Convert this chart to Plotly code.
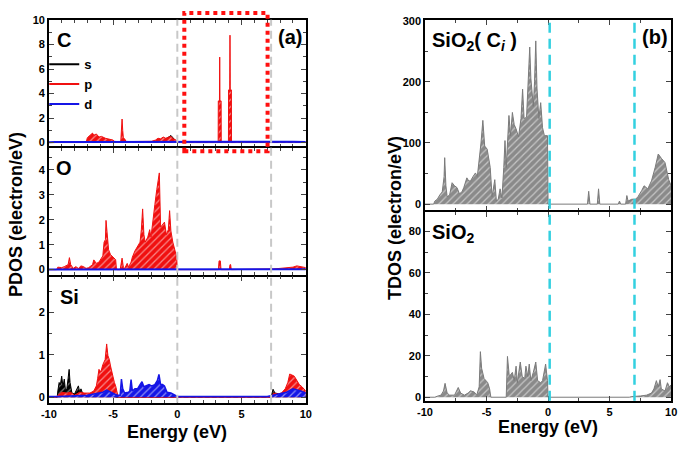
import plotly.graph_objects as go

# ---------------- data ----------------
energy_tickvals = [-10, -5, 0, 5, 10]
energy_ticktext = ["-10", "-5", "0", "5", "10"]
energy_minor_a = [-10, -9, -8, -7, -6, -5, -4, -3, -2, -1, 0, 1, 2, 3, 4, 5, 6, 7, 8, 9, 10]
energy_minor_b = [-10, -7.5, -5, -2.5, 0, 2.5, 5, 7.5, 10]

# Panel (a) C atom
c_s_E = [-10, -9.5, -7.0, -6.6, -6.0, -5.0, -4.4, -4.3, -4.2, -2.0, -1.6, -1.2, -0.9, -0.6, -0.5, -0.3, -0.1, 0.0, 10]
c_s   = [0, 0.02, 0.05, 0.2, 0.1, 0.05, 0.05, 0.3, 0.05, 0.05, 0.15, 0.25, 0.3, 0.5, 0.58, 0.35, 0.1, 0, 0]
c_p_E = [-10, -7.1, -7.0, -6.8, -6.6, -6.5, -6.3, -6.1, -5.9, -5.6, -5.3, -5.0, -4.9, -4.5, -4.4, -4.35, -4.3,
         -4.25, -4.2, -4.1, -4.0, -3.8, -3.0, -2.0, -1.7, -1.5, -1.3, -1.1, -0.9, -0.7, -0.5, -0.3, -0.1, 0.0,
         3.18, 3.19, 3.28, 3.3, 3.32, 3.41, 3.42, 3.98, 3.99, 4.08, 4.1, 4.12, 4.21, 4.22, 7.5, 8.5, 9.5, 10]
c_p   = [0, 0, 0.4, 0.6, 0.77, 0.6, 0.7, 0.45, 0.5, 0.35, 0.3, 0.2, 0.1, 0.05, 0.1, 1.0, 1.92,
         1.0, 0.4, 0.3, 0.1, 0.08, 0.1, 0.1, 0.2, 0.35, 0.3, 0.45, 0.35, 0.4, 0.5, 0.3, 0.2, 0,
         0, 3.4, 3.4, 6.98, 3.4, 3.4, 0, 0, 4.3, 4.3, 8.77, 4.3, 4.3, 0, 0.03, 0.05, 0.06, 0.04]
c_d_E = [-10, -9.5, -7.0, -4.3, -1.0, 0.0, 5.0, 8.0, 9.0, 10]
c_d   = [0.03, 0.05, 0.05, 0.06, 0.06, 0.05, 0.04, 0.05, 0.07, 0.05]

# Panel (a) O atom
o_p_E = [-10, -9.4, -9.3, -9.0, -8.8, -8.5, -8.4, -8.3, -8.1, -7.9, -7.7, -7.5, -7.3, -7.1, -6.9, -6.6, -6.5,
         -6.3, -6.1, -5.9, -5.8, -5.7, -5.6, -5.55, -5.45, -5.35, -5.2, -5.0, -4.8, -4.75, -4.7, -4.45, -4.4,
         -4.3, -4.2, -4.1, -3.9, -3.8, -3.6, -3.5, -3.3, -3.1, -2.9, -2.8, -2.7, -2.6, -2.5, -2.3, -2.15,
         -2.05, -1.9, -1.75, -1.6, -1.5, -1.4, -1.3, -1.15, -1.0, -0.85, -0.7, -0.6, -0.5, -0.35, -0.2, -0.05,
         0.0, 3.2, 3.25, 3.35, 3.4, 4.05, 4.1, 4.15, 4.2, 7.0, 7.5, 8.0, 8.5, 9.0, 9.3, 9.6, 10]
o_p   = [0, 0, 0.1, 0.08, 0.12, 0.2, 0.48, 0.2, 0.05, 0.12, 0.05, 0.15, 0.12, 0.05, 0.08, 0.2, 0.39,
         0.25, 0.3, 0.45, 0.55, 1.1, 1.2, 1.97, 1.2, 0.8, 0.6, 0.5, 0.4, 0.1, 0, 0, 0.15,
         0.46, 0.1, 0.05, 0.25, 0.1, 0.3, 0.5, 0.75, 0.92, 1.1, 1.6, 2.43, 1.4, 1.1, 1.3, 1.6,
         1.3, 1.85, 2.6, 3.2, 3.55, 3.87, 1.7, 1.8, 1.9, 1.4, 1.6, 2.36, 1.55, 1.1, 0.75, 0.5,
         0, 0, 0.35, 0.35, 0, 0, 0.2, 0.2, 0, 0, 0.03, 0.05, 0.08, 0.1, 0.15, 0.12, 0.08]
o_d_E = [-10, -4.7, 0.0, 7.0, 9.0, 10]
o_d   = [0.01, 0.01, 0.01, 0.01, 0.03, 0.02]

# Panel (a) Si atom
si_s_E = [-10, -9.35, -9.3, -9.2, -9.1, -9.0, -8.9, -8.8, -8.7, -8.6, -8.5, -8.42, -8.35, -8.2, -8.0, -7.8,
          -7.7, -7.6, -7.5, -7.4, -7.2, -6.5, -5.0, -4.7, 0.0, 7.3, 7.45, 7.6, 8.0, 9.0, 10]
si_s   = [0, 0, 0.15, 0.35, 0.3, 0.5, 0.25, 0.43, 0.15, 0.2, 0.45, 0.66, 0.35, 0.1, 0.08, 0.2,
          0.27, 0.12, 0.2, 0.12, 0.05, 0.03, 0.03, 0, 0, 0, 0.19, 0.1, 0.08, 0.1, 0.1]
si_p_E = [-10, -9.4, -9.3, -9.0, -8.6, -8.3, -8.0, -7.6, -7.2, -6.8, -6.5, -6.3, -6.2, -6.1, -5.95, -5.8,
          -5.62, -5.5, -5.4, -5.3, -5.2, -5.05, -4.9, -4.8, -4.7, -4.6, 0.0, 7.3, 7.5, 7.8, 8.1, 8.4, 8.6,
          8.75, 8.9, 9.1, 9.3, 9.5, 9.7, 10]
si_p   = [0, 0, 0.05, 0.12, 0.1, 0.12, 0.05, 0.12, 0.1, 0.1, 0.15, 0.27, 0.45, 0.66, 0.6, 0.77,
          0.89, 1.26, 0.98, 0.9, 0.74, 0.5, 0.35, 0.27, 0.1, 0, 0, 0, 0.1, 0.08, 0.1, 0.2, 0.35,
          0.55, 0.53, 0.5, 0.4, 0.3, 0.25, 0.15]
si_d_E = [-10, -9.3, -7.0, -6.3, -5.8, -5.5, -5.3, -5.0, -4.7, -4.45, -4.35, -4.25, -4.1, -3.8, -3.7, -3.6,
          -3.5, -3.3, -3.1, -2.9, -2.75, -2.6, -2.4, -2.2, -2.0, -1.75, -1.55, -1.43, -1.3, -1.15, -1.0,
          -0.8, -0.5, -0.2, 0.0, 7.0, 7.5, 8.0, 8.5, 9.0, 9.3, 9.6, 10]
si_d   = [0.02, 0.02, 0.05, 0.1, 0.12, 0.17, 0.14, 0.1, 0.05, 0.05, 0.43, 0.2, 0.1, 0.12, 0.15, 0.42,
          0.15, 0.2, 0.2, 0.3, 0.37, 0.25, 0.28, 0.3, 0.27, 0.3, 0.4, 0.54, 0.3, 0.3, 0.27,
          0.12, 0.1, 0.05, 0.02, 0.02, 0.05, 0.08, 0.12, 0.2, 0.18, 0.15, 0.1]

# Panel (b) TDOS SiO2 with C_i
ci_E = [-10, -9.3, -9.2, -9.0, -8.8, -8.6, -8.45, -8.4, -8.3, -8.2, -8.0, -7.8, -7.6, -7.4, -7.2, -7.0,
        -6.85, -6.6, -6.45, -6.3, -6.1, -5.9, -5.75, -5.6, -5.45, -5.3, -5.15, -4.95, -4.8, -4.7, -4.55,
        -4.33, -4.2, -4.05, -3.9, -3.75, -3.6, -3.5, -3.4, -3.25, -3.18, -3.05, -2.9, -2.75, -2.6, -2.4,
        -2.2, -2.07, -1.95, -1.75, -1.6, -1.49, -1.4, -1.2, -1.1, -1.0, -0.9, -0.75, -0.6, -0.45, -0.3,
        -0.05, 0.0, 3.2, 3.3, 3.4, 4.0, 4.1, 4.2, 5.7, 5.8, 5.9, 6.3, 6.4, 6.5, 6.8, 7.1, 7.3, 7.6, 7.8,
        8.1, 8.4, 8.7, 8.95, 9.2, 9.5, 9.8, 10]
ci_tdos = [0, 0, 5, 8, 15, 20, 45, 76, 30, 12, 15, 35, 30, 27, 17, 20,
           27, 43, 38, 38, 45, 51, 45, 70, 100, 137, 95, 90, 75, 60, 12,
           40, 5, 8, 25, 10, 60, 104, 60, 110, 145, 112, 150, 130, 123, 110,
           140, 188, 140, 142, 200, 257, 206, 160, 200, 267, 190, 140, 166, 125, 112,
           112, 0, 0, 21, 0, 0, 25, 0, 0, 5, 0, 0, 14, 5, 8, 8, 12, 22, 30,
           25, 38, 60, 82, 75, 68, 40, 30]

# Panel (b) TDOS pure SiO2
si2_E = [-10, -9.2, -9.0, -8.7, -8.5, -8.37, -8.2, -8.0, -7.6, -7.4, -7.3, -7.1, -6.8, -6.5, -6.3, -6.0,
         -5.8, -5.6, -5.5, -5.4, -5.2, -5.0, -4.9, -4.75, -4.65, -3.4, -3.3, -3.15, -2.9, -2.75, -2.6,
         -2.5, -2.26, -2.1, -1.9, -1.8, -1.65, -1.53, -1.4, -1.2, -1.0, -0.85, -0.6, -0.45, -0.3, -0.2,
         -0.05, 0.0, 6.6, 6.8, 7.5, 8.0, 8.4, 8.6, 8.8, 8.95, 9.1, 9.2, 9.5, 9.7, 9.85, 10]
si2_tdos = [0, 0, 0.5, 1, 3, 6.7, 2, 1, 1, 3, 4.7, 2, 1, 2, 3.1, 2.5,
            1, 5, 22, 14, 9, 7.7, 7, 4, 0, 0, 19.7, 10, 12, 8, 15,
            7, 17, 10, 9, 15, 10, 16, 8, 12, 17, 8, 7, 8, 12, 16,
            8, 0, 0, 0.3, 0.6, 1, 2, 4, 8, 5, 8.5, 4, 3, 7, 5, 6]

gap_lines_a = [0.0, 7.3]     # grey dashed markers in (a)
gap_lines_b = [0.13, 7.02]   # cyan dashed markers in (b)

# ---------------- figure ----------------
FONT = "Arial, Liberation Sans, sans-serif"
RED, BLACK, BLUE, GREY = "#f01010", "#000000", "#1515e6", "#8a8a8a"
W, H = 685, 450
LW = 1.5  # frame line width

fig = go.Figure()


def area(E, v, color, xa, ya, lw=1.0, line_color=None):
    fig.add_trace(go.Scatter(
        x=E, y=v, mode="lines", xaxis=xa, yaxis=ya,
        line=dict(color=line_color or color, width=lw),
        fill="tozeroy", fillcolor=color,
        fillpattern=dict(shape="/", fgcolor="white", bgcolor=color, size=5, solidity=0.25),
        showlegend=False, hoverinfo="skip"))


# (a) C
area(c_s_E, c_s, BLACK, "x", "y")
area(c_p_E, c_p, RED, "x", "y")
area(c_d_E, c_d, BLUE, "x", "y", lw=2)
# (a) O
area(o_p_E, o_p, RED, "x2", "y2")
area(o_d_E, o_d, BLUE, "x2", "y2", lw=2)
# (a) Si
area(si_s_E, si_s, BLACK, "x3", "y3")
area(si_p_E, si_p, RED, "x3", "y3")
area(si_d_E, si_d, BLUE, "x3", "y3", lw=1.5)
# (b)
area(ci_E, ci_tdos, GREY, "x4", "y4", line_color="#7a7a7a")
area(si2_E, si2_tdos, GREY, "x5", "y5", line_color="#7a7a7a")

# legend entries
for nm, col in [("s", BLACK), ("p", RED), ("d", BLUE)]:
    fig.add_trace(go.Scatter(x=[None], y=[None], mode="lines", name=nm,
                             line=dict(color=col, width=2), xaxis="x", yaxis="y"))

tickfont = dict(family=FONT, size=11, color="black", weight="bold")


def xax(dom, anchor, labels, minor_vals):
    return dict(domain=dom, anchor=anchor, range=[-10, 10], tickmode="array",
                tickvals=energy_tickvals, ticktext=energy_ticktext, showticklabels=labels,
                ticks="inside", ticklen=5, tickwidth=1.3,
                minor=dict(tickmode="array", tickvals=minor_vals, ticks="inside", ticklen=3,
                           tickwidth=1),
                showline=True, linecolor="black", linewidth=LW, mirror="ticks",
                showgrid=False, zeroline=False, tickfont=tickfont)


def yax(dom, anchor, rng, dtick, minor):
    return dict(domain=dom, anchor=anchor, range=rng, tickmode="linear", dtick=dtick, tick0=0,
                ticks="inside", ticklen=5, tickwidth=1.3,
                minor=dict(dtick=minor, tick0=0, ticks="inside", ticklen=3, tickwidth=1),
                showline=True, linecolor="black", linewidth=LW, mirror="ticks",
                showgrid=False, zeroline=False, tickfont=tickfont)


def py(pix):
    return (H - pix) / H


gap = LW / H  # lower panel's top line overlaps the upper panel's bottom line
LX = [41.7 / W, 304 / W]
RX = [425.7 / W, 677 / W]

fig.update_layout(
    width=W, height=H, margin=dict(l=0, r=0, t=0, b=0, pad=0),
    paper_bgcolor="white", plot_bgcolor="white",
    font=dict(family=FONT, color="black"),
    xaxis=xax(LX, "y", False, energy_minor_a),
    xaxis2=xax(LX, "y2", False, energy_minor_a),
    xaxis3=xax(LX, "y3", True, energy_minor_a),
    xaxis4=xax(RX, "y4", False, energy_minor_b),
    xaxis5=xax(RX, "y5", True, energy_minor_b),
    yaxis=yax([py(143), py(14)], "x", [-0.32, 10.03], 2, 1),
    yaxis2=yax([py(274), py(143) - gap], "x2", [-0.22, 4.87], 1, 0.5),
    yaxis3=yax([py(404), py(274) - gap], "x3", [-0.13, 2.85], 1, 0.5),
    yaxis4=yax([py(208), py(14)], "x4", [-10.1, 301.6], 100, 50),
    yaxis5=yax([py(402), py(208) - gap], "x5", [-1.75, 89.5], 20, 10),
    showlegend=True,
    legend=dict(x=37 / W, y=py(44), xanchor="left", yanchor="top",
                bgcolor="rgba(0,0,0,0)", borderwidth=0, tracegroupgap=0,
                font=dict(family=FONT, size=13, color="black", weight="bold")),
)

shapes = []
for e in gap_lines_a:
    shapes.append(dict(type="line", xref="x3", yref="paper", x0=e, x1=e, y0=py(404), y1=py(14),
                       line=dict(color="#c8c8c8", width=2, dash="8px,5px"), layer="above"))
for e in gap_lines_b:
    shapes.append(dict(type="line", xref="x5", yref="paper", x0=e, x1=e, y0=py(402), y1=py(14),
                       line=dict(color="#33d0e0", width=2.5, dash="10px,6px"), layer="above"))
# red dotted highlight box
shapes.append(dict(type="rect", xref="paper", yref="paper",
                   x0=180 / W, x1=265 / W, y0=py(148), y1=py(7),
                   line=dict(color="#ff1010", width=4, dash="dot"), fillcolor="rgba(0,0,0,0)",
                   layer="above"))
fig.update_layout(shapes=shapes)

big = dict(family=FONT, size=20, color="black", weight="bold")
ttl = dict(family=FONT, size=18, color="black", weight="bold")
anns = [
    dict(text="C", x=57 / W, y=py(35), font=big),
    dict(text="O", x=57 / W, y=py(165), font=big),
    dict(text="Si", x=63 / W, y=py(296), font=big),
    dict(text="(a)", x=288 / W, y=py(32), font=big),
    dict(text="(b)", x=661 / W, y=py(32), font=big),
    dict(text="SiO<sub>2</sub>( C<sub><i>i</i></sub> )", x=431 / W, y=py(36),
         xanchor="left", font=big),
    dict(text="SiO<sub>2</sub>", x=431 / W, y=py(232), xanchor="left", font=big),
    dict(text="Energy (eV)", x=173 / W, y=py(434), font=ttl),
    dict(text="Energy (eV)", x=551 / W, y=py(429), font=ttl),
    dict(text="PDOS (electron/eV)", x=8 / W, y=py(212), textangle=-90, font=ttl),
    dict(text="TDOS (electron/eV)", x=395 / W, y=py(216), textangle=-90, font=ttl),
]
for a in anns:
    a.setdefault("xanchor", "center")
    a.update(xref="paper", yref="paper", showarrow=False, yanchor="middle")
fig.update_layout(annotations=anns)

fig.write_html("out.html", config={"displayModeBar": False},
               post_script="document.body.style.margin='0';document.body.style.overflow='hidden';")
